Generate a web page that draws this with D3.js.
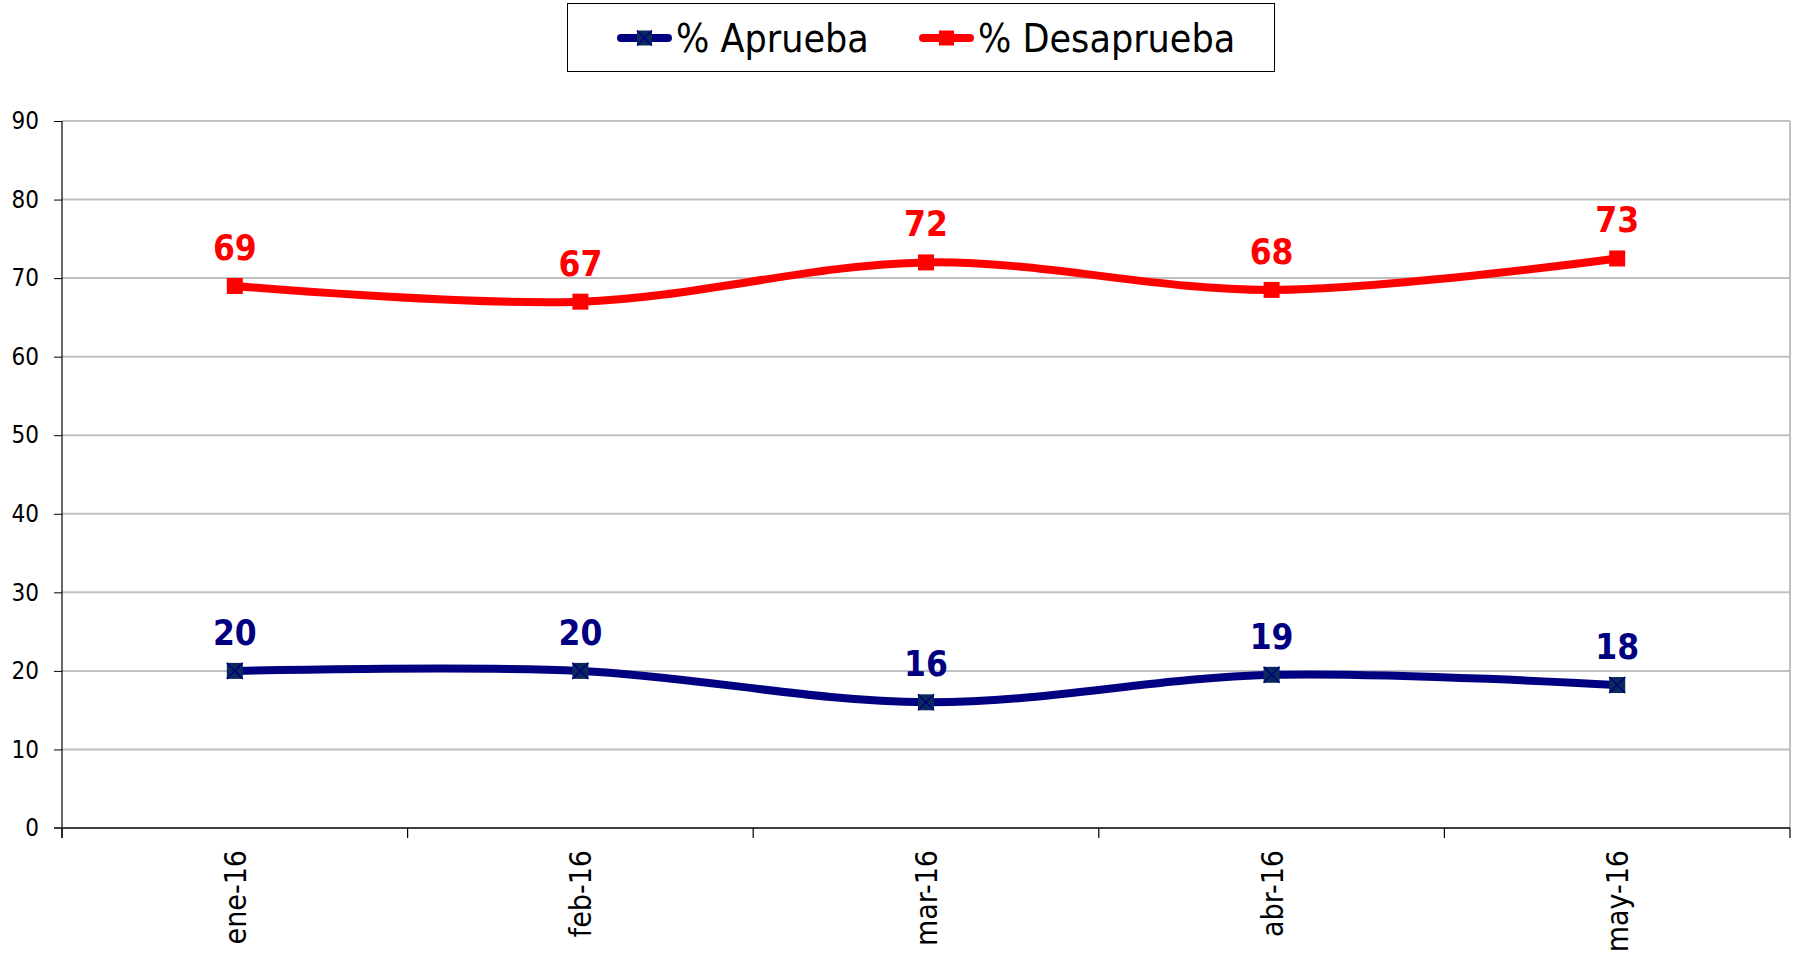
<!DOCTYPE html>
<html>
<head>
<meta charset="utf-8">
<script src="https://cdn.jsdelivr.net/npm/d3@7"></script>
<style>
  body { margin: 0; background: #fff; }
  svg { display: block; }
  text { font-family: "DejaVu Sans Condensed", "DejaVu Sans", sans-serif; }
</style>
</head>
<body>
<svg width="1801" height="957"></svg>
<script>
// chart data
const months = ["ene-16", "feb-16", "mar-16", "abr-16", "may-16"];
const aprueba = [20, 20, 16, 19.5, 18.2];
const apruebaLabels = ["20", "20", "16", "19", "18"];
const desaprueba = [69, 67, 72, 68.5, 72.5];
const desapruebaLabels = ["69", "67", "72", "68", "73"];
const yTicks = [0, 10, 20, 30, 40, 50, 60, 70, 80, 90];

const series = [
    { name: "% Aprueba", values: aprueba, labels: apruebaLabels, color: "#000080", marker: "#0b2a5c" },
    { name: "% Desaprueba", values: desaprueba, labels: desapruebaLabels, color: "#ff0000", marker: "#ff0000" }
];

const svg = d3.select("svg");
const plotLeft = 62, plotRight = 1790, plotTop = 121, plotBottom = 828;

const x = d3.scaleBand().domain(months).range([plotLeft, plotRight]).padding(0);
const y = d3.scaleLinear().domain([0, 90]).range([plotBottom, plotTop]);
const cx = m => x(m) + x.bandwidth() / 2;

// horizontal gridlines
svg.append("g")
    .selectAll("line")
    .data(yTicks.filter(t => t > 0))
    .enter()
    .append("line")
    .attr("x1", plotLeft).attr("x2", plotRight)
    .attr("y1", d => y(d)).attr("y2", d => y(d))
    .attr("stroke", "#c0c0c0")
    .attr("stroke-width", 2);

// right border of plot area
svg.append("line")
    .attr("x1", plotRight).attr("x2", plotRight)
    .attr("y1", plotTop).attr("y2", plotBottom)
    .attr("stroke", "#c0c0c0")
    .attr("stroke-width", 2);

// y axis
const yAxis = svg.append("g")
    .attr("transform", `translate(${plotLeft},0)`)
    .call(d3.axisLeft(y).tickValues(yTicks).tickSize(8).tickPadding(15));
yAxis.select(".domain").remove();
yAxis.selectAll(".tick line").attr("stroke", "#000");
yAxis.selectAll(".tick text")
    .attr("fill", "#000")
    .style("font-size", "24px");
svg.append("line")
    .attr("x1", plotLeft).attr("x2", plotLeft)
    .attr("y1", plotTop).attr("y2", plotBottom + 10)
    .attr("stroke", "#000")
    .attr("stroke-width", 1.2);

// x axis line + ticks at band boundaries
svg.append("line")
    .attr("x1", plotLeft - 8).attr("x2", plotRight)
    .attr("y1", plotBottom).attr("y2", plotBottom)
    .attr("stroke", "#404040")
    .attr("stroke-width", 2);
svg.append("g")
    .selectAll("line")
    .data(months.concat([null]))
    .enter()
    .append("line")
    .attr("x1", d => d ? x(d) : plotRight)
    .attr("x2", d => d ? x(d) : plotRight)
    .attr("y1", plotBottom).attr("y2", plotBottom + 10)
    .attr("stroke", "#000")
    .attr("stroke-width", 1.2);

// x labels, rotated
svg.append("g")
    .selectAll("text")
    .data(months)
    .enter()
    .append("text")
    .attr("transform", d => `translate(${cx(d) + 11},${plotBottom + 22}) rotate(-90)`)
    .attr("text-anchor", "end")
    .style("font-size", "30px")
    .attr("fill", "#000")
    .text(d => d);

// lines
const line = d3.line()
    .x((d, i) => cx(months[i]))
    .y(d => y(d))
    .curve(d3.curveCatmullRom.alpha(0.5));

function drawMarker(g, s, px, py, size) {
    g.append("rect")
        .attr("x", px - size / 2).attr("y", py - size / 2)
        .attr("width", size).attr("height", size)
        .attr("fill", s.marker);
    if (s.name === "% Aprueba") {
        g.append("path")
            .attr("d", `M${px - size / 2},${py - size / 2}L${px + size / 2},${py + size / 2}M${px + size / 2},${py - size / 2}L${px - size / 2},${py + size / 2}`)
            .attr("stroke", "#000080")
            .attr("stroke-width", 1.5);
    }
}

series.forEach(s => {
    const g = svg.append("g");
    g.append("path")
        .datum(s.values)
        .attr("d", line)
        .attr("fill", "none")
        .attr("stroke", s.color)
        .attr("stroke-width", 8)
        .attr("stroke-linecap", "round");

    s.values.forEach((v, i) => drawMarker(g, s, cx(months[i]), y(v), 16));

    g.selectAll(".label")
        .data(s.values)
        .enter()
        .append("text")
        .attr("x", (d, i) => cx(months[i]))
        .attr("y", d => y(d) - 26)
        .attr("text-anchor", "middle")
        .attr("fill", s.color)
        .style("font-size", "35px")
        .style("font-weight", "bold")
        .text((d, i) => s.labels[i]);
});

// legend
const legend = svg.append("g");
legend.append("rect")
    .attr("x", 567.5).attr("y", 3.5)
    .attr("width", 707).attr("height", 68)
    .attr("fill", "#fff")
    .attr("stroke", "#000")
    .attr("stroke-width", 1);

const legendX = [617, 919];
series.forEach((s, i) => {
    const lx = legendX[i];
    legend.append("line")
        .attr("x1", lx + 4).attr("x2", lx + 51)
        .attr("y1", 38).attr("y2", 38)
        .attr("stroke", s.color)
        .attr("stroke-width", 8)
        .attr("stroke-linecap", "round");
    drawMarker(legend, s, lx + 27.5, 38, 15);
    legend.append("text")
        .attr("x", lx + 59)
        .attr("y", 52)
        .style("font-size", "39px")
        .attr("fill", "#000")
        .text(s.name);
});
</script>
</body>
</html>
